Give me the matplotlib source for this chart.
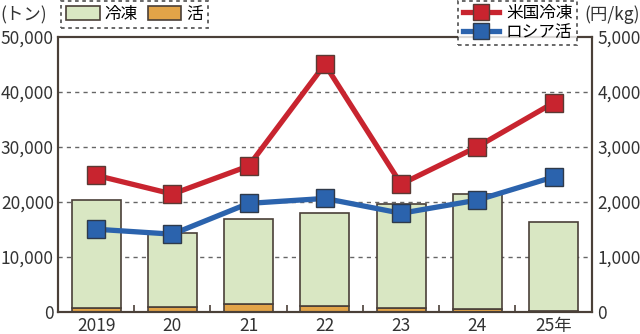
import matplotlib.pyplot as plt
from matplotlib.patches import Patch
from matplotlib.lines import Line2D
import numpy as np

plt.rcParams['font.family'] = ['Noto Sans CJK JP', 'DejaVu Sans']

years = ['2019', '20', '21', '22', '23', '24', '25年']
frozen = [19700, 13400, 15500, 16800, 18900, 21000, 16200]   # 冷凍 (トン)
live = [700, 900, 1400, 1100, 600, 400, 200]                 # 活 (トン)
us_frozen_price = [2480, 2140, 2650, 4500, 2320, 3000, 3800]  # 米国冷凍 (円/kg)
ru_live_price = [1500, 1410, 1970, 2060, 1790, 2030, 2450]    # ロシア活 (円/kg)

edge = '#4a4038'
green = '#d9e7c3'
orange = '#e2a448'
red = '#c8242f'
blue = '#2b63ad'

fig = plt.figure(figsize=(6.4, 3.34), dpi=100)
ax = fig.add_axes([0.0906, 0.0668, 0.834, 0.823])
x = np.arange(len(years))

ax.bar(x, live, width=0.64, color=orange, edgecolor=edge, linewidth=1.2, zorder=2)
ax.bar(x, frozen, width=0.64, bottom=live, color=green, edgecolor=edge, linewidth=1.2, zorder=2)

ax.set_xlim(-0.5, len(years) - 0.5)
ax.set_ylim(0, 50000)
ax.set_yticks(range(0, 50001, 10000))
ax.set_yticklabels([f'{v:,}' for v in range(0, 50001, 10000)], fontsize=12.5, color='#333333')
for v in range(10000, 50000, 10000):
    ax.axhline(v, color='#666666', linewidth=1, linestyle=(0, (3, 3)), zorder=1)

ax.set_xticks(x)
ax.set_xticklabels(years, fontsize=12.5, color='#333333')
ax.set_xticks(x[:-1] + 0.5, minor=True)
ax.tick_params(axis='x', which='major', length=0, pad=4)
ax.tick_params(axis='x', which='minor', direction='in', length=5, width=1.2, color=edge)
ax.tick_params(axis='y', length=0, pad=3)
for s in ax.spines.values():
    s.set_color(edge)
    s.set_linewidth(1.5)

ax2 = ax.twinx()
ax2.set_ylim(0, 5000)
ax2.set_yticks(range(0, 5001, 1000))
ax2.set_yticklabels([f'{v:,}' for v in range(0, 5001, 1000)], fontsize=12.5, color='#333333')
ax2.tick_params(axis='y', length=0, pad=4)
for s in ax2.spines.values():
    s.set_color(edge)
    s.set_linewidth(1.5)

ax2.plot(x, us_frozen_price, color=red, linewidth=3.8, marker='s', markersize=12.5,
         markerfacecolor=red, markeredgecolor='#5a3a34', markeredgewidth=1, zorder=4)
ax2.plot(x, ru_live_price, color=blue, linewidth=3.8, marker='s', markersize=12.5,
         markerfacecolor=blue, markeredgecolor='#2f3a4a', markeredgewidth=1, zorder=4)

fig.text(0.0, 0.955, '(トン)', fontsize=12.5, color='#333333', va='center', ha='left')
fig.text(1.0, 0.955, '(円/kg)', fontsize=12.5, color='#333333', va='center', ha='right')

bar_handles = [Patch(facecolor=green, edgecolor=edge, linewidth=1.2, label='冷凍'),
               Patch(facecolor=orange, edgecolor=edge, linewidth=1.2, label='活')]
leg1 = fig.legend(handles=bar_handles, loc='upper left', bbox_to_anchor=(0.096, 0.998),
                  ncol=2, fontsize=12, frameon=True, fancybox=False, borderpad=0.3,
                  handlelength=2.0, handleheight=0.9, handletextpad=0.3, columnspacing=0.6,
                  borderaxespad=0)
leg1.get_frame().set_edgecolor('#333333')
leg1.get_frame().set_linestyle((0, (2, 2)))
leg1.get_frame().set_linewidth(1.3)

line_handles = [Line2D([], [], color=red, linewidth=3.8, marker='s', markersize=11,
                       markeredgecolor='#5a3a34', label='米国冷凍'),
                Line2D([], [], color=blue, linewidth=3.8, marker='s', markersize=11,
                       markeredgecolor='#2f3a4a', label='ロシア活')]
leg2 = fig.legend(handles=line_handles, loc='upper right', bbox_to_anchor=(0.901, 0.998),
                  fontsize=12, frameon=True, fancybox=False, borderpad=0.25,
                  handlelength=2.2, handletextpad=0.4, labelspacing=0.1, borderaxespad=0)
leg2.get_frame().set_edgecolor('#333333')
leg2.get_frame().set_linestyle((0, (2, 2)))
leg2.get_frame().set_linewidth(1.3)

fig.savefig('out.png', dpi=100)
